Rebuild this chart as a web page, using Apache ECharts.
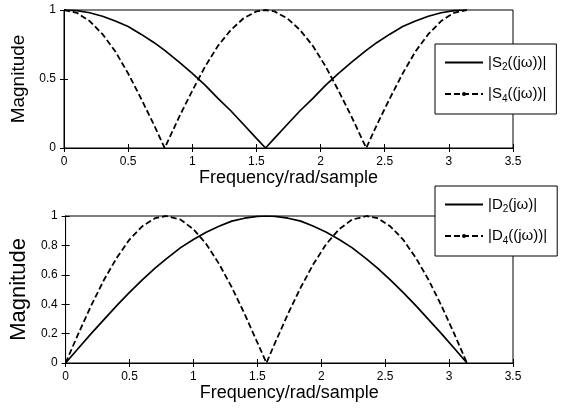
<!DOCTYPE html>
<html>
<head>
<meta charset="utf-8">
<script src="https://cdn.jsdelivr.net/npm/echarts@6/dist/echarts.min.js"></script>
<style>html,body{margin:0;padding:0;background:#fff}#c{width:563px;height:410px}</style>
</head>
<body>
<div id="c"></div>
<script>
// Frequency samples (rad/sample)
var freq = [0, 0.1, 0.2, 0.3, 0.4, 0.5, 0.6, 0.7, 0.785, 0.9, 1.0, 1.1, 1.2, 1.3, 1.4, 1.5, 1.571,
            1.64, 1.74, 1.84, 1.94, 2.04, 2.14, 2.24, 2.356, 2.44, 2.54, 2.64, 2.74, 2.84, 2.94, 3.04, 3.14];
// Top panel
var s2 = [1, 0.995, 0.98, 0.955, 0.92, 0.88, 0.825, 0.765, 0.707, 0.62, 0.54, 0.455, 0.36, 0.27, 0.17, 0.07, 0,
          0.07, 0.17, 0.27, 0.36, 0.455, 0.54, 0.62, 0.707, 0.765, 0.825, 0.88, 0.92, 0.955, 0.98, 0.995, 1];
var s4 = [1, 0.98, 0.92, 0.825, 0.7, 0.54, 0.36, 0.17, 0, 0.23, 0.415, 0.59, 0.74, 0.855, 0.94, 0.99, 1,
          0.99, 0.94, 0.855, 0.74, 0.59, 0.415, 0.23, 0, 0.17, 0.36, 0.54, 0.7, 0.825, 0.92, 0.98, 1];
// Bottom panel
var d2 = [0, 0.1, 0.2, 0.295, 0.39, 0.48, 0.565, 0.645, 0.707, 0.785, 0.84, 0.89, 0.93, 0.965, 0.985, 0.997, 1,
          0.997, 0.985, 0.965, 0.93, 0.89, 0.84, 0.785, 0.707, 0.645, 0.565, 0.48, 0.39, 0.295, 0.2, 0.1, 0];
var d4 = [0, 0.2, 0.39, 0.565, 0.715, 0.84, 0.93, 0.985, 1, 0.975, 0.91, 0.81, 0.675, 0.515, 0.335, 0.14, 0,
          0.14, 0.335, 0.515, 0.675, 0.81, 0.91, 0.975, 1, 0.985, 0.93, 0.84, 0.715, 0.565, 0.39, 0.2, 0];
var xTicks = {min: 0, max: 3.5, interval: 0.5};
var yTopTicks = {min: 0, max: 1, interval: 0.5};
var yBotTicks = {min: 0, max: 1, interval: 0.2};
var xName = 'Frequency/rad/sample';
var yName = 'Magnitude';

function pairs(xs, ys){ return xs.map(function(x,i){ return [x, ys[i]]; }); }

var FONT = 'Liberation Sans, Arial, sans-serif';
var tickLab = {color:'#000', fontSize:12, fontFamily:FONT, margin:8};
var axLine = {show:true, lineStyle:{color:'#000', width:1}};
var tick = {show:true, inside:true, length:4, lineStyle:{color:'#000'}};

function xAx(grid, primary){
  return {type:'value', gridIndex:grid, min:xTicks.min, max:xTicks.max, interval:xTicks.interval,
    position: primary ? 'bottom' : 'top',
    axisLine: axLine, axisTick: tick, splitLine:{show:false},
    axisLabel: primary ? tickLab : {show:false},
    name: primary ? xName : '', nameLocation:'middle', nameGap:21,
    nameTextStyle:{color:'#000', fontSize:18, fontFamily:FONT}};
}
function yAx(grid, primary, t, fs){
  return {type:'value', gridIndex:grid, min:t.min, max:t.max, interval:t.interval,
    position: primary ? 'left' : 'right',
    axisLine: axLine, axisTick: tick, splitLine:{show:false},
    axisLabel: primary ? tickLab : {show:false},
    name: primary ? yName : '', nameLocation:'middle', nameGap:31,
    nameTextStyle:{color:'#000', fontSize:fs, fontFamily:FONT}};
}
var solid = {color:'#000', width:1.7, type:'solid'};
var dashed = {color:'#000', width:1.8, type:[6,3]};
function ser(name, data, xi, yi, ls){
  return {name:name, type:'line', xAxisIndex:xi, yAxisIndex:yi, data:data,
    showSymbol:false, symbol:'circle', symbolSize:4,
    itemStyle:{color:'#000'}, lineStyle:ls, smooth:false, animation:false};
}
var rich = {sub:{fontSize:10, fontFamily:FONT, color:'#000', padding:[10,0,0,0]}};
function legend(names, top){
  return {data:[{name:names[0], itemStyle:{opacity:0}}, {name:names[1]}],
    orient:'vertical', left:435, top:top, width:121,
    backgroundColor:'#fff', borderColor:'#000', borderWidth:1,
    padding:[11, 10, 10, 9], itemGap:14, itemWidth:38, itemHeight:5,
    textStyle:{color:'#000', fontSize:15, fontFamily:FONT, rich:rich, padding:[0,0,0,0]},
    formatter:function(n){ return n.replace(/_(\d)/, '{sub|$1}'); }};
}

var chart = echarts.init(document.getElementById('c'), null, {renderer:'canvas'});
chart.setOption({
  animation:false,
  backgroundColor:'#fff',
  grid:[{left:64, top:10, width:449, height:138, show:true, borderColor:'#000', borderWidth:1},
        {left:64, top:216, width:449, height:147, show:true, borderColor:'#000', borderWidth:1}],
  xAxis:[xAx(0,true), xAx(1,true), xAx(0,false), xAx(1,false)],
  yAxis:[yAx(0,true,yTopTicks,19), yAx(1,true,yBotTicks,22), yAx(0,false,yTopTicks,19), yAx(1,false,yBotTicks,22)],
  legend:[legend(['|S_2((jω))|','|S_4((jω))|'], 44), legend(['|D_2(jω)|','|D_4((jω))|'], 186)],
  series:[
    ser('|S_2((jω))|', pairs(freq, s2), 0, 0, solid),
    ser('|S_4((jω))|', pairs(freq, s4), 0, 0, dashed),
    ser('|D_2(jω)|', pairs(freq, d2), 1, 1, solid),
    ser('|D_4((jω))|', pairs(freq, d4), 1, 1, dashed)
  ]
});
</script>
</body>
</html>
